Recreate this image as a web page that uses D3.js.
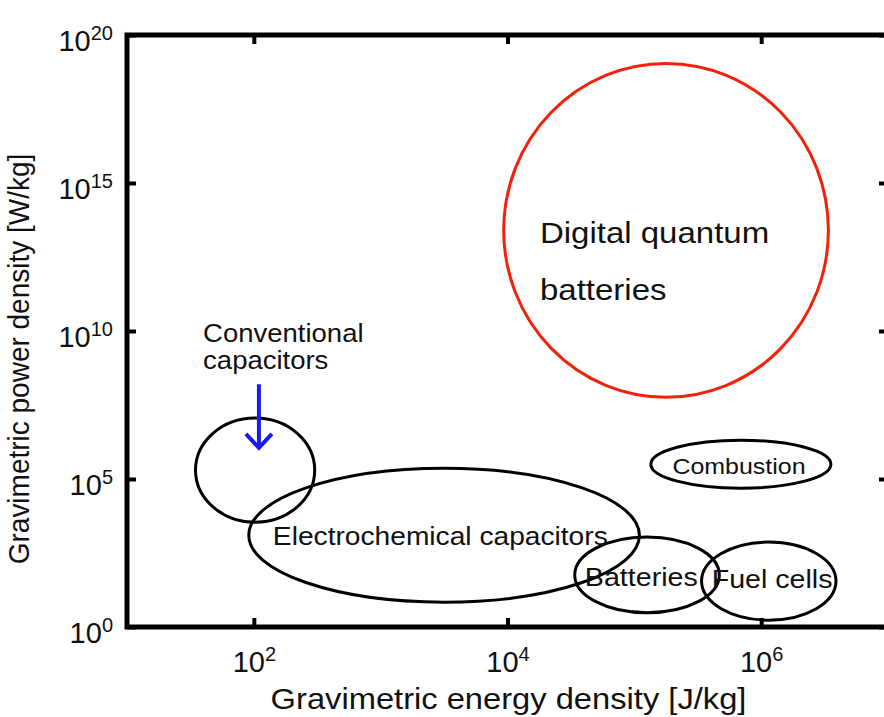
<!DOCTYPE html>
<html>
<head>
<meta charset="utf-8">
<script src="https://cdn.jsdelivr.net/npm/d3@7"></script>
<style>
  body { margin: 0; background: #fff; }
  text { font-family: "Liberation Sans", Arial, sans-serif; fill: #111; }
</style>
</head>
<body>
<div id="chart"></div>
<script>
// regions in log10 units: centre (x, y) and half-widths (decades)
var names   = ["Digital quantum batteries", "Conventional capacitors", "Electrochemical capacitors", "Combustion", "Batteries", "Fuel cells"];
var logE    = [5.25, 2.01, 3.50, 5.84, 5.10, 6.06];
var logP    = [13.4, 5.3, 3.1, 5.5, 1.76, 1.55];
var spanE   = [1.28, 0.47, 1.54, 0.71, 0.57, 0.53];
var spanP   = [5.64, 1.76, 2.26, 0.81, 1.28, 1.32];

var xTicks = [1e2, 1e4, 1e6];
var yTicks = [1e0, 1e5, 1e10, 1e15, 1e20];

var margin = {top: 35, right: -4, bottom: 90, left: 127},
    width = 884 - margin.left - margin.right,
    height = 717 - margin.top - margin.bottom;

// text in the picture is a bit wider than tall
var stretch = 1.1;

var svg = d3.select("#chart")
  .append("svg")
    .attr("width", 884)
    .attr("height", 717)
  .append("g")
    .attr("transform", "translate(" + margin.left + "," + margin.top + ")");

var x = d3.scaleLog().domain([1e1, 1e7]).range([0, width]);
var y = d3.scaleLog().domain([1e0, 1e20]).range([height, 0]);

function sup(sel, v) {
  var e = Math.round(Math.log10(v));
  sel.text("");
  sel.append("tspan").text("10");
  sel.append("tspan").attr("dy", "-0.55em").attr("font-size", "20px").text(e);
}

// ellipses
var shapes = names.map(function(n, i) {
  var cx = x(Math.pow(10, logE[i])), cy = y(Math.pow(10, logP[i]));
  return {
    name: n,
    cx: cx, cy: cy,
    rx: x(Math.pow(10, logE[i] + spanE[i])) - cx,
    ry: cy - y(Math.pow(10, logP[i] + spanP[i]))
  };
});

svg.selectAll("ellipse.region")
  .data(shapes)
  .enter()
  .append("ellipse")
    .attr("class", "region")
    .attr("cx", function(d) { return d.cx; })
    .attr("cy", function(d) { return d.cy; })
    .attr("rx", function(d) { return d.rx; })
    .attr("ry", function(d) { return d.ry; })
    .attr("fill", "none")
    .attr("stroke", function(d, i) { return i == 0 ? "#f5200a" : "#000"; })
    .attr("stroke-width", 3);

// labels (data coords, log10)
var labelText = [["Digital quantum", "batteries"], ["Conventional", "capacitors"], ["Electrochemical capacitors"], ["Combustion"], ["Batteries"], ["Fuel cells"]];
var labelE    = [4.256, 1.60, 2.15, 5.30, 4.61, 5.61];
var labelP    = [12.97, 9.63, 2.77, 5.17, 1.39, 1.32];
var labelSize = [30, 25, 25.6, 22.7, 26, 26];
var lineGap   = [57, 27, 0, 0, 0, 0];

labelText.forEach(function(lines, i) {
  lines.forEach(function(t, j) {
    var lx = x(Math.pow(10, labelE[i])),
        ly = y(Math.pow(10, labelP[i])) + j * lineGap[i];
    svg.append("text")
      .attr("transform", "translate(" + lx + "," + ly + ") scale(" + stretch + ",1)")
      .attr("font-size", labelSize[i] + "px")
      .text(t);
  });
});

// blue arrow
var arrowFrom = [2.04, 8.2], arrowTo = [2.04, 6.05];
var ax = x(Math.pow(10, arrowFrom[0])),
    ay1 = y(Math.pow(10, arrowFrom[1])),
    ay2 = y(Math.pow(10, arrowTo[1]));
svg.append("line")
  .attr("x1", ax).attr("x2", ax)
  .attr("y1", ay1).attr("y2", ay2)
  .attr("stroke", "#1a1aee").attr("stroke-width", 4);
svg.append("path")
  .attr("d", "M" + (ax - 13) + "," + (ay2 - 14) + "L" + ax + "," + ay2 + "L" + (ax + 13) + "," + (ay2 - 14))
  .attr("fill", "none")
  .attr("stroke", "#1a1aee").attr("stroke-width", 4);

// frame
svg.append("rect")
  .attr("x", 0).attr("y", 0)
  .attr("width", width).attr("height", height)
  .attr("fill", "none")
  .attr("stroke", "#000").attr("stroke-width", 5);

// axes with inward ticks
var xAxis = svg.append("g")
  .attr("transform", "translate(0," + height + ")")
  .call(d3.axisBottom(x).tickValues(xTicks).tickSizeInner(-9).tickSizeOuter(0).tickPadding(24));
var xTop = svg.append("g")
  .call(d3.axisTop(x).tickValues(xTicks).tickSizeInner(-9).tickSizeOuter(0).tickFormat(""));
var yAxis = svg.append("g")
  .call(d3.axisLeft(y).tickValues(yTicks).tickSizeInner(-9).tickSizeOuter(0).tickPadding(14));
var yRight = svg.append("g")
  .attr("transform", "translate(" + width + ",0)")
  .call(d3.axisRight(y).tickValues(yTicks).tickSizeInner(-9).tickSizeOuter(0).tickFormat(""));

[xAxis, xTop, yAxis, yRight].forEach(function(g) {
  g.select(".domain").remove();
  g.selectAll(".tick line").attr("stroke", "#000").attr("stroke-width", 4);
});

xAxis.selectAll(".tick text")
  .attr("font-size", "29px")
  .attr("font-family", "Liberation Sans, Arial, sans-serif")
  .attr("fill", "#111")
  .each(function(d) { sup(d3.select(this), d); });
yAxis.selectAll(".tick text")
  .attr("font-size", "29px")
  .attr("font-family", "Liberation Sans, Arial, sans-serif")
  .attr("fill", "#111")
  .attr("dy", "0.55em")
  .each(function(d) { sup(d3.select(this), d); });

// axis titles
svg.append("text")
  .attr("transform", "translate(" + ((x(1e2) + x(1e6)) / 2 + 1) + "," + (height + 82) + ") scale(1.09,1)")
  .attr("text-anchor", "middle")
  .attr("font-size", "30px")
  .text("Gravimetric energy density [J/kg]");

svg.append("text")
  .attr("transform", "translate(" + (-98) + "," + (height / 2 + 28) + ") rotate(-90) scale(1,1.08)")
  .attr("text-anchor", "middle")
  .attr("font-size", "28px")
  .text("Gravimetric power density [W/kg]");
</script>
</body>
</html>
